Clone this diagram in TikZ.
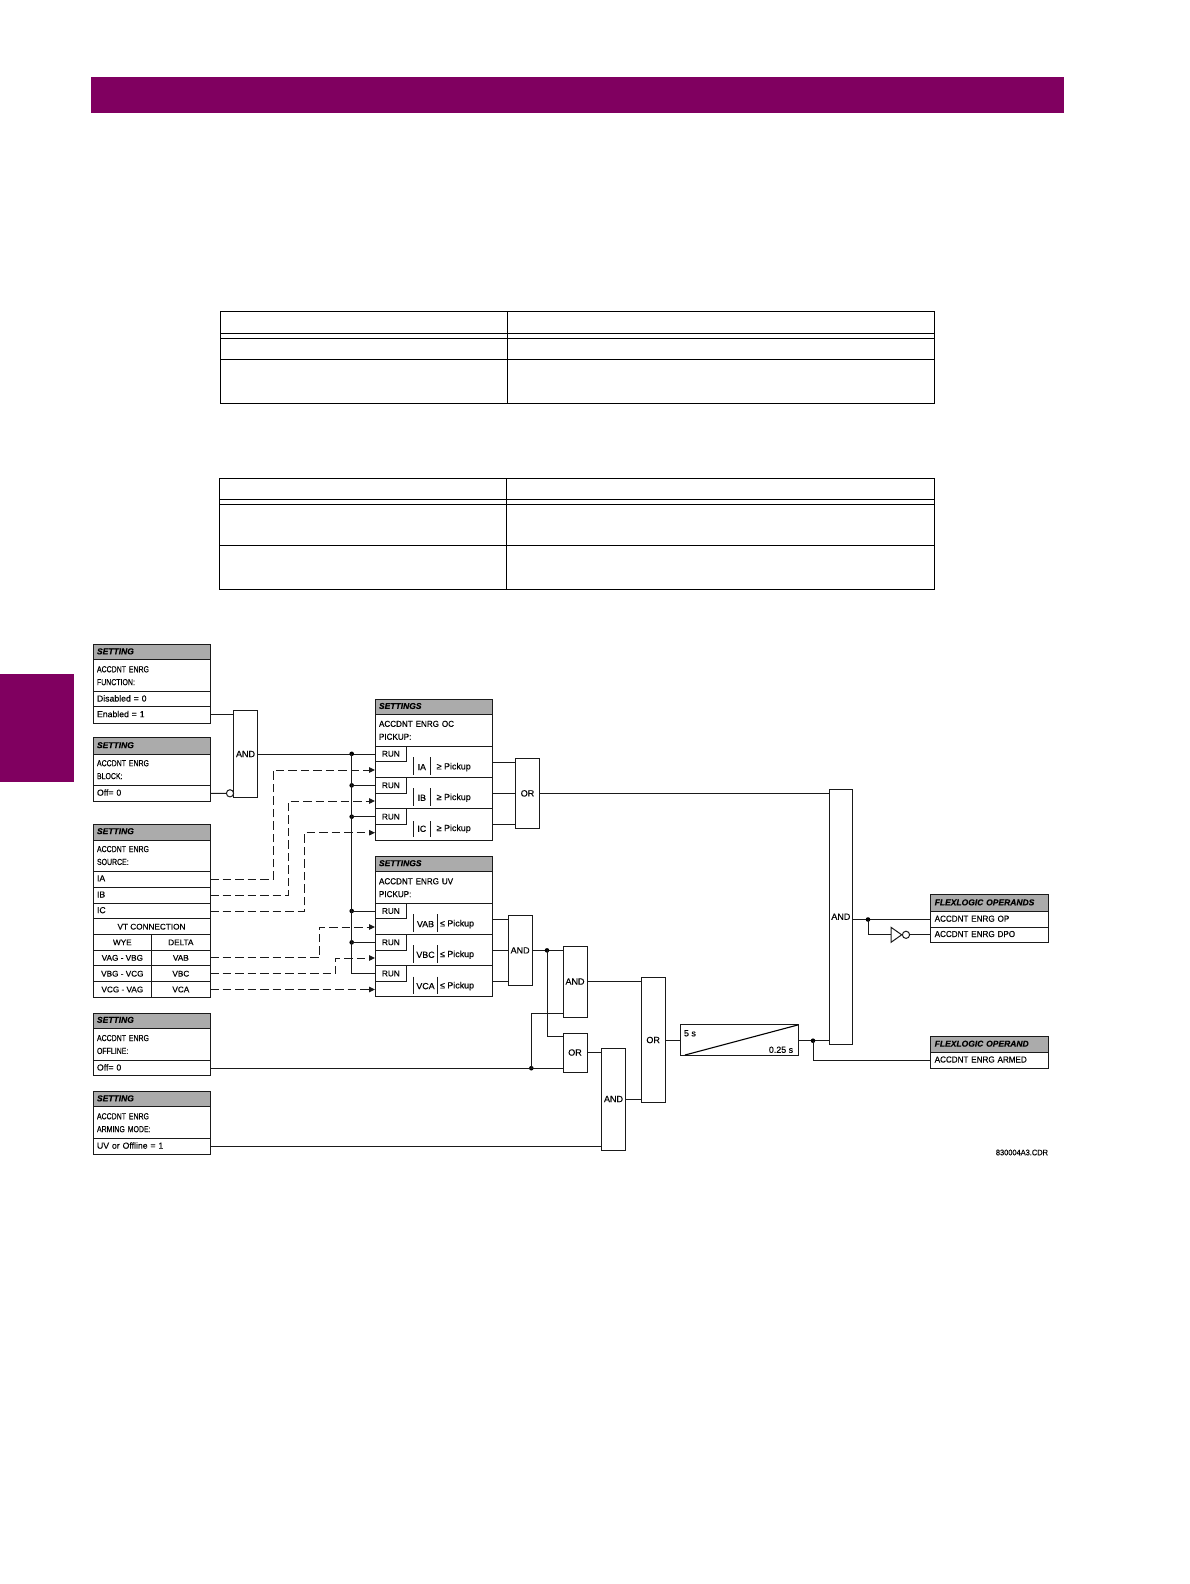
\documentclass[tikz,border=0pt]{standalone}
\usepackage{fontspec}
\setmainfont[FakeBold=0.25]{Liberation Sans}
\newfontfamily\narrowf[FakeStretch=0.8,FakeBold=0.25]{Liberation Sans}
\newfontfamily\midf[FakeStretch=0.93,FakeBold=0.25]{Liberation Sans}
\usetikzlibrary{arrows.meta,calc}
\definecolor{band}{HTML}{800060}
\definecolor{ink}{HTML}{1A1A1A}
\definecolor{headgrey}{HTML}{ABABAB}
\tikzset{
  boxcell/.style={draw=ink,line width=1pt,inner sep=0pt,outer sep=0pt,fill=white,text=black,
    font=\fontsize{8.7}{11.3}\selectfont},
  lefty/.style={align=left,text width=\tw pt,inner xsep=4pt,inner ysep=0pt,execute at begin node={\vspace*{1.6pt}}},
  headcell/.style={lefty,fill=headgrey,font=\fontsize{8.5}{11}\selectfont\bfseries\itshape},
  tablecell/.style={boxcell,draw=black,line width=1pt,fill=none},
  gate/.style={font=\fontsize{9}{11}\selectfont},
  label/.style={inner sep=0pt,outer sep=0pt,text=black,yshift=-0.8pt,font=\fontsize{8.9}{11}\selectfont},
  wire/.style={draw=ink,line width=1pt},
  dashwire/.style={draw=ink,line width=1pt,dash pattern=on 8.5pt off 4pt,-{Triangle[length=6pt,width=5.5pt]}},
  joint/.style={circle,fill=black,inner sep=0pt,minimum size=4.6pt},
  bubble/.style={circle,draw=ink,line width=1pt,fill=white,inner sep=0pt,minimum size=7.2pt},
}
\newcommand{\Rect}[7][]{%
  \pgfmathsetmacro\tw{#5-#3-8}%
  \node[boxcell,#1,minimum width={(#5-#3)*1pt},minimum height={(#6-#4)*1pt},anchor=north west] (#2) at (#3,#4) {#7};}
\newcommand{\cen}[1]{\fontsize{8.2}{11}\selectfont\raisebox{-0.6pt}{#1}}
\begin{document}
\begin{tikzpicture}[x=1pt,y=-1pt]
\useasboundingbox (0,0) rectangle (1190,1584);
\fill[white] (0,0) rectangle (1190,1584);
% page furniture
\fill[band] (90.9,76.8) rectangle (1063.8,113.2);
\fill[band] (0,673.8) rectangle (73.7,782);
% tables
\foreach \n/\a/\b in {a/311.3/333.3,b/333.3/338.3,c/338.3/359.3,d/359.3/403.3}{
  \Rect[tablecell]{ta\n l}{220.6}{\a}{507.6}{\b}{}
  \Rect[tablecell]{ta\n r}{507.6}{\a}{934.6}{\b}{}
}
\foreach \n/\a/\b in {a/478.3/499.3,b/499.3/504.3,c/504.3/545.3,d/545.3/589.3}{
  \Rect[tablecell]{tb\n l}{219.6}{\a}{506.2}{\b}{}
  \Rect[tablecell]{tb\n r}{506.2}{\a}{934.6}{\b}{}
}
% left setting boxes
\Rect[headcell]{h1}{93}{644.7}{210}{659.7}{SETTING}
\Rect[lefty]{l1}{93}{659.7}{210}{691.7}{\narrowf ACCDNT ENRG\\FUNCTION:}
\Rect[lefty]{dis}{93}{691.7}{210}{706.7}{Disabled = 0}
\Rect[lefty]{en}{93}{706.7}{210}{723}{Enabled = 1}

\Rect[headcell]{h2}{93}{737.7}{210}{754.3}{SETTING}
\Rect[lefty]{l2}{93}{754.3}{210}{785}{\narrowf ACCDNT ENRG\\BLOCK:}
\Rect[lefty]{blk}{93}{785}{210}{801.7}{Off= 0}

\Rect[headcell]{h3}{93}{824}{210}{840}{SETTING}
\Rect[lefty]{l3}{93}{840}{210}{871}{\narrowf ACCDNT ENRG\\SOURCE:}
\Rect[lefty]{ia}{93}{871}{210}{887.3}{IA}
\Rect[lefty]{ib}{93}{887.3}{210}{903.3}{IB}
\Rect[lefty]{ic}{93}{903.3}{210}{918.7}{IC}
\Rect{vt}{93}{918.7}{210}{934.7}{\cen{VT CONNECTION}}
\Rect{wye}{93}{934.7}{151.7}{950}{\cen{WYE}}
\Rect{del}{151.7}{934.7}{210}{950}{\cen{DELTA}}
\Rect{w1}{93}{950}{151.7}{965.7}{\cen{VAG - VBG}}
\Rect{vab}{151.7}{950}{210}{965.7}{\cen{VAB}}
\Rect{w2}{93}{965.7}{151.7}{981.7}{\cen{VBG - VCG}}
\Rect{vbc}{151.7}{965.7}{210}{981.7}{\cen{VBC}}
\Rect{w3}{93}{981.7}{151.7}{997.3}{\cen{VCG - VAG}}
\Rect{vca}{151.7}{981.7}{210}{997.3}{\cen{VCA}}

\Rect[headcell]{h4}{93}{1013}{210}{1028.3}{SETTING}
\Rect[lefty]{l4}{93}{1028.3}{210}{1060.7}{\narrowf ACCDNT ENRG\\OFFLINE:}
\Rect[lefty]{off}{93}{1060.7}{210}{1075.7}{Off= 0}

\Rect[headcell]{h5}{93}{1091.7}{210}{1106.7}{SETTING}
\Rect[lefty]{l5}{93}{1106.7}{210}{1138.7}{\narrowf ACCDNT ENRG\\ARMING MODE:}
\Rect[lefty]{arm}{93}{1138.7}{210}{1154}{UV or Offline = 1}

% gates
\Rect[gate]{and1}{233.7}{710.3}{257.3}{797.7}{AND}
\Rect[gate]{or1}{515.7}{758}{539.3}{828.7}{OR}
\Rect[gate]{and2}{508.3}{915}{532}{985.7}{AND}
\Rect[gate]{and3}{563}{946}{587}{1017}{AND}
\Rect[gate]{or2}{563}{1033}{587}{1072}{OR}
\Rect[gate]{and4}{601.7}{1048}{625.3}{1150}{AND}
\Rect[gate]{or3}{641.3}{977.3}{665}{1102.7}{OR}
\Rect[gate]{big}{829}{789}{852.7}{1044.3}{AND}
\Rect{timer}{680}{1024.3}{798.3}{1055.7}{}
\node[bubble] (notb) at (230,793.3) {};

% OC settings
\Rect[headcell]{oh}{375}{699.3}{492.3}{714.3}{SETTINGS}
\Rect[lefty]{ol}{375}{714.3}{492.3}{746.3}{\midf ACCDNT ENRG OC\\PICKUP:}
\Rect{oa}{375}{746.3}{492.3}{777.7}{}
\Rect{ob}{375}{777.7}{492.3}{808.7}{}
\Rect{oc}{375}{808.7}{492.3}{840}{}
\Rect{runa}{375}{746.3}{406.7}{761.3}{\cen{RUN}}
\Rect{runb}{375}{777.7}{406.7}{793}{\cen{RUN}}
\Rect{runc}{375}{808.7}{406.7}{824.7}{\cen{RUN}}
% UV settings
\Rect[headcell]{uh}{375}{856.3}{492.3}{871.7}{SETTINGS}
\Rect[lefty]{ul}{375}{871.7}{492.3}{903.7}{\midf ACCDNT ENRG UV\\PICKUP:}
\Rect{ua}{375}{903.7}{492.3}{934.7}{}
\Rect{ub}{375}{934.7}{492.3}{965.7}{}
\Rect{uc}{375}{965.7}{492.3}{996.7}{}
\Rect{rund}{375}{903.7}{406.7}{918.3}{\cen{RUN}}
\Rect{rune}{375}{934.7}{406.7}{950}{\cen{RUN}}
\Rect{runf}{375}{965.7}{406.7}{981.3}{\cen{RUN}}

% magnitude bars and labels
\foreach \a/\b in {757.3/775.3,788.3/806.3,821/837}{
  \draw[wire] (413.7,\a) -- (413.7,\b) (430,\a) -- (430,\b);}
\foreach \a/\b in {914.3/931.7,945.3/962.7,976.7/994}{
  \draw[wire] (413.7,\a) -- (413.7,\b) (437.3,\a) -- (437.3,\b);}
\node[label] (ma) at (421.8,766.3) {IA};
\node[label] (mb) at (421.8,797) {IB};
\node[label] (mc) at (421.8,828) {IC};
\node[label,anchor=west] (pa) at (436.7,766.3) {≥ Pickup};
\node[label,anchor=west] (pb) at (436.7,797) {≥ Pickup};
\node[label,anchor=west] (pc) at (436.7,828) {≥ Pickup};
\node[label] (md) at (425.5,923.3) {VAB};
\node[label] (me) at (425.5,954) {VBC};
\node[label] (mf) at (425.5,985.3) {VCA};
\node[label,anchor=west] (pd) at (440,923.3) {≤ Pickup};
\node[label,anchor=west] (pe) at (440,954) {≤ Pickup};
\node[label,anchor=west] (pf) at (440,985.3) {≤ Pickup};

% timer content
\coordinate (tlow) at (685,1055);
\coordinate (thigh) at (797.7,1025);
\draw[draw=black,line width=1.1pt] (tlow) -- (thigh);
\node[label,anchor=west] (t5) at (684,1032.5) {5 s};
\node[label] (t25) at (781,1049) {0.25 s};

% flexlogic
\Rect[headcell]{fh}{930.7}{894.7}{1048}{911.7}{FLEXLOGIC OPERANDS}
\Rect[lefty]{fop}{930.7}{911.7}{1048}{927.3}{\midf ACCDNT ENRG OP}
\Rect[lefty]{fdpo}{930.7}{927.3}{1048}{942.3}{\midf ACCDNT ENRG DPO}
\Rect[headcell]{fh2}{930.7}{1036.7}{1048}{1052.3}{FLEXLOGIC OPERAND}
\Rect[lefty]{farm}{930.7}{1052.3}{1048}{1068.3}{\midf ACCDNT ENRG ARMED}
\node[label,anchor=east,font=\fontsize{8}{10}\selectfont\midf] (cdr) at (1048,1151.7) {830004A3.CDR};

% connectors: solid
\draw[wire] (en.east) -- (en.east -| and1.west);
\draw[wire] (blk.east) -- (notb.west);
\draw[wire] (and1.east) -- (and1.east -| runa.west);
\coordinate (busx) at (351.7,754);
\node[joint] (j1) at (busx |- runa.west) {};
\node[joint] (j2) at (busx |- runb.west) {};
\node[joint] (j3) at (busx |- runc.west) {};
\node[joint] (j4) at (busx |- rund.west) {};
\node[joint] (j5) at (busx |- rune.west) {};
\draw[wire] (j1.center) -- (busx |- runf.west) -- (runf.west);
\draw[wire] (j2.center) -- (runb.west);
\draw[wire] (j3.center) -- (runc.west);
\draw[wire] (j4.center) -- (rund.west);
\draw[wire] (j5.center) -- (rune.west);
\draw[wire] (oa.east) -- (oa.east -| or1.west);
\draw[wire] (ob.east) -- (ob.east -| or1.west);
\draw[wire] (oc.east) -- (oc.east -| or1.west);
\draw[wire] (ua.east) -- (ua.east -| and2.west);
\draw[wire] (ub.east) -- (ub.east -| and2.west);
\draw[wire] (uc.east) -- (uc.east -| and2.west);
\draw[wire] (or1.east) -- (or1.east -| big.west);
\draw[wire] (and2.east) -- (and2.east -| and3.west);
\coordinate (ax) at (547,950);
\node[joint] (j6) at (ax |- and2.east) {};
\coordinate (orin) at ($(or2.west)+(0,-15.7)$);
\draw[wire] (j6.center) -- (ax |- orin) -- (orin);
\coordinate (offin) at (or2.west |- off.east);
\node[joint] (j7) at (531.3,1068.2) {};
\draw[wire] (off.east) -- (offin);
\coordinate (and3low) at (563,1013);
\draw[wire] (j7.center) -- (j7.center |- and3low) -- (and3low);
\draw[wire] (and3.east) -- (and3.east -| or3.west);
\draw[wire] (or2.east) -- (or2.east -| and4.west);
\draw[wire] (arm.east) -- (arm.east -| and4.west);
\draw[wire] (and4.east) -- (and4.east -| or3.west);
\draw[wire] (or3.east) -- (or3.east -| timer.west);
\draw[wire] (timer.east) -- (timer.east -| big.west);
\node[joint] (j8) at (813,1040.7) {};
\draw[wire] (j8.center) -- (j8.center |- farm.west) -- (farm.west);
\draw[wire] (fop.west -| big.east) -- (fop.west);
\node[joint] (j9) at (fop.west -| 868,0) {};
\coordinate (invin) at (891,934.8);
\draw[wire] (j9.center) -- (j9.center |- invin) -- (invin);
\draw[draw=ink,line width=1pt,fill=white] (invin |- 0,927.3) -- (901.7,934.8) -- (invin |- 0,942.3) -- cycle;
\node[bubble] (inv) at (906,934.8) {};
\draw[wire] (inv.east) -- (fdpo.west);

% connectors: dashed
\coordinate (ina) at (375,770);
\coordinate (inb) at (375,801);
\coordinate (inc) at (375,832.7);
\coordinate (ind) at (375,927);
\coordinate (ine) at (375,958);
\coordinate (inf) at (375,989.5);
\draw[dashwire] (ia.east) -| (273.3,770) -- (ina);
\draw[dashwire] (ib.east) -| (288.3,801) -- (inb);
\draw[dashwire] (ic.east) -| (304.3,832.7) -- (inc);
\draw[dashwire] (vab.east) -| (319.3,927) -- (ind);
\draw[dashwire] (vbc.east) -| (335.3,958) -- (ine);
\draw[dashwire] (vca.east) -- (vca.east -| inf);
\end{tikzpicture}
\end{document}
